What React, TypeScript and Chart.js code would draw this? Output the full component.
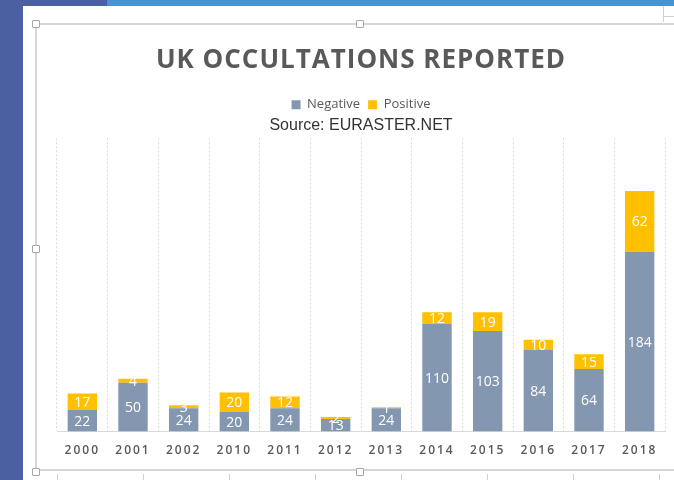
import React, { useEffect, useRef } from "react";
import { Chart, registerables } from "chart.js";

Chart.register(...registerables);

const years = ["2000", "2001", "2002", "2010", "2011", "2012", "2013", "2014", "2015", "2016", "2017", "2018"];
const negative = [22, 50, 24, 20, 24, 13, 24, 110, 103, 84, 64, 184];
const positive = [17, 4, 3, 20, 12, 2, 1, 12, 19, 10, 15, 62];
const seriesNames = ["Negative", "Positive"];
const seriesColors = ["#8497B0", "#FFC000"];
const titleText = "UK OCCULTATIONS REPORTED";
const subtitleText = "Source: EURASTER.NET";
const yMax = 300;

const segLabels = {
  id: "segLabels",
  beforeDraw(chart: any) {
    const ctx = chart.ctx;
    const tb = chart.titleBlock;
    if (tb && !tb.__ls) {
      const orig = tb.draw.bind(tb);
      tb.draw = (a: any) => {
        ctx.save();
        ctx.letterSpacing = "1px";
        orig(a);
        ctx.restore();
      };
      tb.__ls = true;
    }
    const xs = chart.scales.x;
    if (xs && !xs.__ls) {
      const origL = xs.drawLabels.bind(xs);
      xs.drawLabels = (a: any) => {
        ctx.save();
        ctx.letterSpacing = "2px";
        origL(a);
        ctx.restore();
      };
      xs.__ls = true;
    }
  },
  afterDatasetsDraw(chart: any) {
    const ctx = chart.ctx;
    ctx.save();
    ctx.font = '14px "Open Sans"';
    ctx.fillStyle = "#ffffff";
    ctx.textAlign = "center";
    ctx.textBaseline = "middle";
    chart.data.datasets.forEach((ds: any, i: number) => {
      const meta = chart.getDatasetMeta(i);
      meta.data.forEach((bar: any, j: number) => {
        const p = bar.getProps(["x", "y", "base"], true);
        ctx.fillText(String(ds.data[j]), p.x, (p.y + p.base) / 2 + 1);
      });
    });
    ctx.restore();
  },
};

export default function App() {
  const ref = useRef<HTMLCanvasElement>(null);
  useEffect(() => {
    if (!ref.current) return;
    const chart = new Chart(ref.current, {
      type: "bar",
      data: {
        labels: years,
        datasets: [
          { label: seriesNames[0], data: negative, backgroundColor: seriesColors[0], borderWidth: 0 },
          { label: seriesNames[1], data: positive, backgroundColor: seriesColors[1], borderWidth: 0 },
        ],
      },
      options: {
        animation: false,
        responsive: false,
        maintainAspectRatio: false,
        layout: { padding: { left: 22, right: 9, top: 0, bottom: 0 } },
        datasets: { bar: { categoryPercentage: 1, barPercentage: 0.58 } },
        scales: {
          x: {
            stacked: true,
            grid: { color: "#d9d9d9", lineWidth: 1, drawTicks: false, offset: true },
            border: { display: true, color: "#d9d9d9", dash: [2, 2] },
            ticks: {
              color: "#595959",
              font: { family: '"Open Sans"', size: 12, weight: 600 },
              padding: 12,
              autoSkip: false,
              maxRotation: 0,
            },
          },
          y: { stacked: true, display: false, min: 0, max: yMax },
        },
        plugins: {
          title: {
            display: true,
            text: titleText,
            color: "#595959",
            font: { family: '"Open Sans"', size: 26, weight: "bold" },
            padding: { top: 20, bottom: 14 },
          },
          legend: {
            display: true,
            position: "top",
            weight: 1000,
            labels: {
              boxWidth: 9,
              boxHeight: 9,
              padding: 8,
              color: "#595959",
              font: { family: '"Open Sans"', size: 13 },
            },
          },
          subtitle: {
            display: true,
            text: subtitleText,
            position: "top",
            weight: 900,
            color: "#333333",
            font: { family: '"Liberation Sans"', size: 16, lineHeight: 0.6 },
            padding: { top: 0, bottom: 7.5 },
          },
          tooltip: { enabled: false },
        },
      } as any,
      plugins: [segLabels],
    });
    return () => chart.destroy();
  }, []);

  const bottomLines = [57, 143, 229, 315, 401, 487, 573, 659];
  const handles = [
    [36, 24],
    [360, 24],
    [36, 249],
    [36, 472],
    [360, 472],
  ];

  return (
    <div style={{ position: "fixed", left: 0, top: 0, width: 674, height: 480, overflow: "hidden", background: "#4b60a0" }}>
      <div style={{ position: "absolute", left: 107, top: 0, width: 567, height: 6, background: "#4894d0" }} />
      <div style={{ position: "absolute", left: 23, top: 6, width: 651, height: 474, background: "#ffffff" }} />
      <div style={{ position: "absolute", left: 663, top: 6, width: 1, height: 16, background: "#d0d0d0" }} />
      <div style={{ position: "absolute", left: 663, top: 16, width: 11, height: 1, background: "#d0d0d0" }} />
      {bottomLines.map((x) => (
        <div key={x} style={{ position: "absolute", left: x, top: 474, width: 1, height: 6, background: "#cfcfcf" }} />
      ))}
      <div style={{ position: "absolute", left: 35, top: 23, width: 700, height: 448, border: "2px solid #d6d6d6", boxSizing: "border-box" }} />
      <canvas ref={ref} width={639} height={445} style={{ position: "absolute", left: 35, top: 25, width: 639, height: 445 }} />
      {handles.map(([x, y], i) => (
        <div key={i} style={{ position: "absolute", left: x - 4, top: y - 4, width: 8, height: 8, background: "#ffffff", border: "1px solid #a6a6a6", boxSizing: "border-box", borderRadius: 1 }} />
      ))}
    </div>
  );
}
